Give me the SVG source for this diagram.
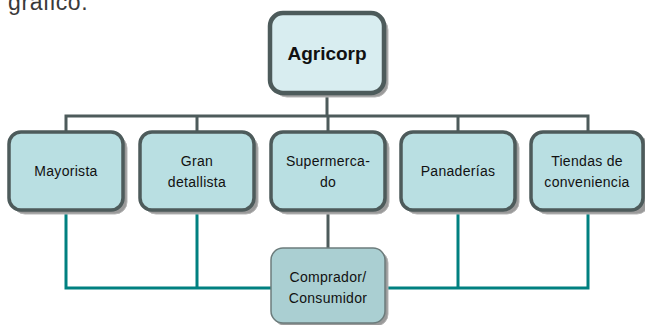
<svg xmlns="http://www.w3.org/2000/svg" width="645" height="325" viewBox="0 0 645 325">
<style>
.shadow{fill:#9a9a9a;stroke:#b5b5b5;stroke-width:1}
.box{fill:#b9dfe2;stroke:#4d5b5b;stroke-width:3.5}
.top{fill:#d8edf0;stroke:#4d5b5b;stroke-width:4.5}
.cons{fill:#aacfd2;stroke:#6c7c7c;stroke-width:1.5}
.t{font-family:"Liberation Sans",Arial,sans-serif;font-size:14px;fill:#111;text-anchor:middle;letter-spacing:0.3px}
.tb{font-family:"Liberation Sans",Arial,sans-serif;font-size:19px;font-weight:bold;fill:#111;text-anchor:middle}
.dk{stroke:#4d5b5b;stroke-width:3;fill:none}
.tl{stroke:#008080;stroke-width:3;fill:none}
</style>
<rect width="645" height="325" fill="#ffffff"/>
<text x="8" y="10" font-family="'Liberation Sans',Arial,sans-serif" font-size="23" letter-spacing="0.6" fill="#3a3a3a">gráfico.</text>
<g id="connectors">
<path class="dk" d="M327,93 V116 M66,132 V116 H588 V132 M197,116 V132 M328,116 V132 M458,116 V132"/>
<path class="dk" d="M328,210 V248"/>
<path class="tl" d="M66,210 V288 H271 M197,210 V288 M385,288 H588 V210 M458,210 V288"/>
</g>
<g id="agricorp">
<rect class="shadow" x="274" y="17" width="114" height="80" rx="13"/>
<rect class="top" x="270" y="13" width="114" height="80" rx="13"/>
<text class="tb" x="327" y="60">Agricorp</text>
</g>
<g id="mayorista">
<rect class="shadow" x="13" y="136" width="114" height="78" rx="12"/>
<rect class="box" x="9" y="132" width="114" height="78" rx="12"/>
<text class="t" x="66" y="176">Mayorista</text>
</g>
<g id="gran-detallista">
<rect class="shadow" x="144" y="136" width="114" height="78" rx="12"/>
<rect class="box" x="140" y="132" width="114" height="78" rx="12"/>
<text class="t" x="197" y="166">Gran</text>
<text class="t" x="197" y="187">detallista</text>
</g>
<g id="supermercado">
<rect class="shadow" x="275" y="136" width="114" height="78" rx="12"/>
<rect class="box" x="271" y="132" width="114" height="78" rx="12"/>
<text class="t" x="328" y="166">Supermerca-</text>
<text class="t" x="328" y="187">do</text>
</g>
<g id="panaderias">
<rect class="shadow" x="405" y="136" width="114" height="78" rx="12"/>
<rect class="box" x="401" y="132" width="114" height="78" rx="12"/>
<text class="t" x="458" y="176">Panaderías</text>
</g>
<g id="tiendas">
<rect class="shadow" x="535" y="136" width="114" height="78" rx="12"/>
<rect class="box" x="531" y="132" width="112" height="78" rx="12"/>
<text class="t" x="587" y="166">Tiendas de</text>
<text class="t" x="587" y="187">conveniencia</text>
</g>
<g id="comprador">
<rect class="shadow" x="274" y="251" width="114" height="75" rx="12"/>
<rect class="cons" x="271" y="248" width="114" height="75" rx="12"/>
<text class="t" x="328" y="282">Comprador/</text>
<text class="t" x="328" y="303">Consumidor</text>
</g>
</svg>
